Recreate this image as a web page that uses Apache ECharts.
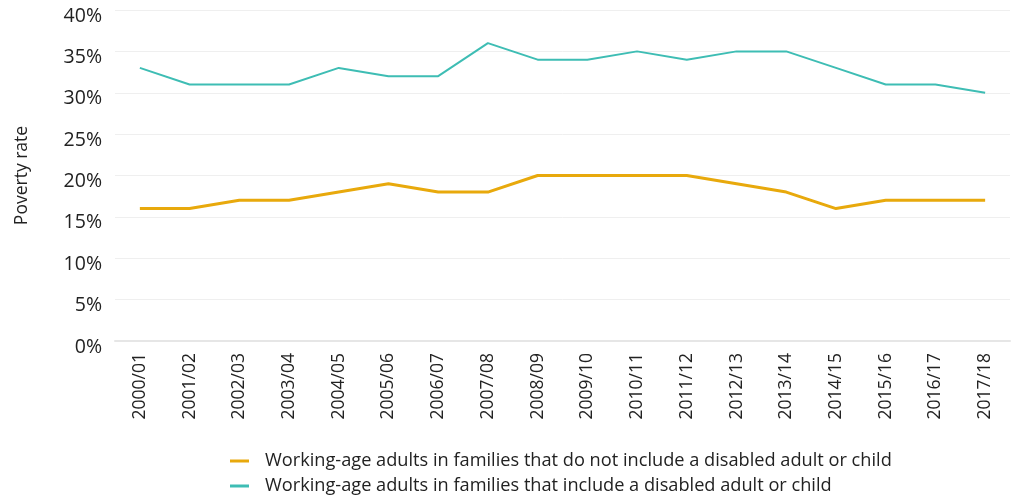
<!DOCTYPE html>
<html>
<head>
<meta charset="utf-8">
<script src="https://cdn.jsdelivr.net/npm/echarts@6/dist/echarts.min.js"></script>
<style>
  html, body { margin: 0; padding: 0; background: #fff; }
  #chart { width: 1011px; height: 500px; }
</style>
</head>
<body>
<div id="chart"></div>
<script>
const years = ['2000/01','2001/02','2002/03','2003/04','2004/05','2005/06','2006/07','2007/08','2008/09',
  '2009/10','2010/11','2011/12','2012/13','2013/14','2014/15','2015/16','2016/17','2017/18'];
// poverty rates, %
const notDisabled = [16,16,17,17,18,19,18,18,20,20,20,20,19,18,16,17,17,17];
const withDisabled = [33,31,31,31,33,32,32,36,34,34,35,34,35,35,33,31,31,30];

const font = '"Open Sans", "Noto Sans", sans-serif';
const chart = echarts.init(document.getElementById('chart'));
chart.setOption({
  animation: false,
  textStyle: { fontFamily: font },
  grid: { left: 115, right: 1, top: 10, bottom: 159 },
  legend: {
    orient: 'vertical',
    left: 230,
    top: 451,
    height: 60,
    padding: 0,
    itemGap: 5,
    itemWidth: 19,
    itemHeight: 3,
    icon: 'rect',
    textStyle: { fontSize: 18.2, lineHeight: 20, color: '#222', fontFamily: font, padding: [0, 0, 0, 11] },
    data: [
      'Working-age adults in families that do not include a disabled adult or child',
      'Working-age adults in families that include a disabled adult or child'
    ]
  },
  xAxis: {
    type: 'category',
    data: years,
    boundaryGap: true,
    axisLine: { lineStyle: { color: '#e6e6e6', width: 2 } },
    axisTick: { show: false },
    axisLabel: { rotate: 90, fontSize: 17.5, color: '#222', margin: 12, interval: 0 }
  },
  yAxis: {
    type: 'value',
    min: 0,
    max: 40,
    interval: 5,
    name: 'Poverty rate',
    nameLocation: 'middle',
    nameGap: 84,
    nameRotate: 90,
    nameTextStyle: { fontSize: 17.5, color: '#222' },
    axisLine: { show: false },
    axisTick: { show: false },
    splitLine: { lineStyle: { color: '#efefef', width: 1 } },
    axisLabel: { formatter: '{value}%', fontSize: 19.5, color: '#222', margin: 13, verticalAlign: 'top', lineHeight: 12 }
  },
  series: [
    {
      name: 'Working-age adults in families that do not include a disabled adult or child',
      type: 'line',
      data: notDisabled,
      symbol: 'none',
      lineStyle: { color: '#e8a90c', width: 3 },
      itemStyle: { color: '#e8a90c' }
    },
    {
      name: 'Working-age adults in families that include a disabled adult or child',
      type: 'line',
      data: withDisabled,
      symbol: 'none',
      lineStyle: { color: '#3ebdb4', width: 2 },
      itemStyle: { color: '#3ebdb4' }
    }
  ]
});
</script>
</body>
</html>
